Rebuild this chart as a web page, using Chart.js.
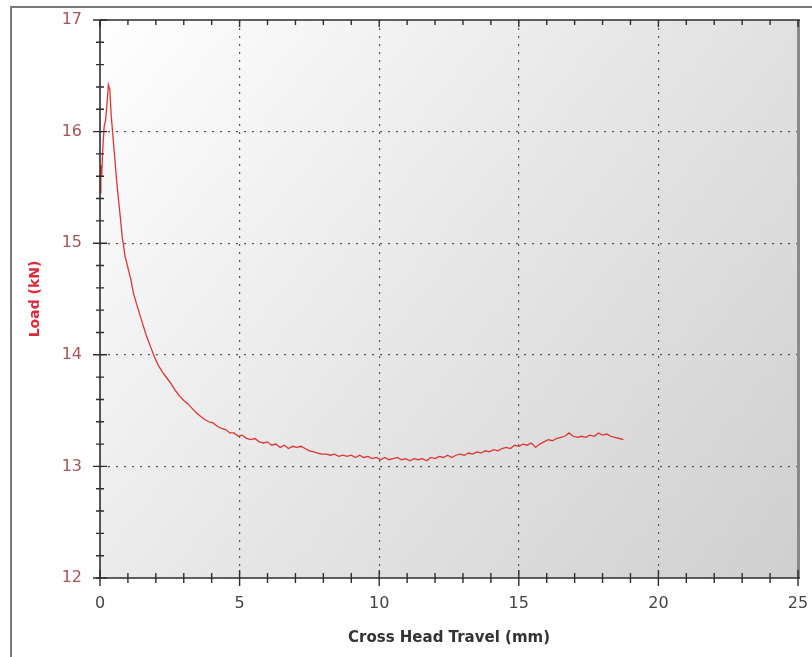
<!DOCTYPE html>
<html>
<head>
<meta charset="utf-8">
<script src="https://cdn.jsdelivr.net/npm/chart.js@4.4.1/dist/chart.umd.min.js"></script>
<style>
  body { margin: 0; background: #fff; }
  canvas { display: block; }
</style>
</head>
<body>
<canvas id="chart" width="812" height="657"></canvas>
<script>
// Cross head travel (mm)
const travel = [
    0.00, 0.03, 0.06, 0.10, 0.15, 0.20, 0.25, 0.30, 0.35, 0.40,
    0.50, 0.60, 0.70, 0.80, 0.90, 1.00, 1.10, 1.20, 1.35, 1.50,
    1.65, 1.80, 1.95, 2.10, 2.25, 2.40, 2.55, 2.70, 2.85, 3.00,
    3.15, 3.30, 3.45, 3.60, 3.75, 3.90, 4.05, 4.20, 4.35, 4.50,
    4.65, 4.80, 4.95, 5.10, 5.25, 5.40, 5.55, 5.70, 5.85, 6.00,
    6.15, 6.30, 6.45, 6.60, 6.75, 6.90, 7.05, 7.20, 7.35, 7.50,
    7.65, 7.80, 7.95, 8.10, 8.25, 8.40, 8.55, 8.70, 8.85, 9.00,
    9.15, 9.30, 9.45, 9.60, 9.75, 9.90, 10.05, 10.20, 10.35, 10.50,
    10.65, 10.80, 10.95, 11.10, 11.25, 11.40, 11.55, 11.70, 11.85, 12.00,
    12.15, 12.30, 12.45, 12.60, 12.75, 12.90, 13.05, 13.20, 13.35, 13.50,
    13.65, 13.80, 13.95, 14.10, 14.25, 14.40, 14.55, 14.70, 14.85, 15.00,
    15.15, 15.30, 15.45, 15.60, 15.75, 15.90, 16.05, 16.20, 16.35, 16.50,
    16.65, 16.80, 16.95, 17.10, 17.25, 17.40, 17.55, 17.70, 17.85, 18.00,
    18.15, 18.30, 18.45, 18.60, 18.75
];

// Load (kN)
const load = [
    15.45, 15.70, 15.60, 15.85, 16.05, 16.10, 16.25, 16.42, 16.38, 16.15,
    15.85, 15.55, 15.30, 15.05, 14.88, 14.78, 14.68, 14.55, 14.42, 14.30,
    14.18, 14.08, 13.98, 13.90, 13.84, 13.79, 13.74, 13.68, 13.63, 13.59,
    13.56, 13.52, 13.48, 13.45, 13.42, 13.40, 13.39, 13.36, 13.34, 13.33,
    13.30, 13.30, 13.27, 13.28, 13.25, 13.24, 13.25, 13.22, 13.21, 13.22,
    13.19, 13.20, 13.17, 13.19, 13.16, 13.18, 13.17, 13.18, 13.16, 13.14,
    13.13, 13.12, 13.11, 13.11, 13.10, 13.11, 13.09, 13.10, 13.09, 13.10,
    13.08, 13.10, 13.08, 13.09, 13.07, 13.08, 13.06, 13.08, 13.06, 13.07,
    13.08, 13.06, 13.07, 13.05, 13.07, 13.06, 13.07, 13.05, 13.08, 13.07,
    13.09, 13.08, 13.10, 13.08, 13.10, 13.11, 13.10, 13.12, 13.11, 13.13,
    13.12, 13.14, 13.13, 13.15, 13.14, 13.16, 13.17, 13.16, 13.19, 13.18,
    13.20, 13.19, 13.21, 13.17, 13.20, 13.22, 13.24, 13.23, 13.25, 13.26,
    13.27, 13.30, 13.27, 13.26, 13.27, 13.26, 13.28, 13.27, 13.30, 13.28,
    13.29, 13.27, 13.26, 13.25, 13.24
];

const xMin = 0, xMax = 25, xStep = 1, xMajor = 5;
const yMin = 12, yMax = 17, yStep = 0.2;

const isWhole = v => Math.abs(v - Math.round(v)) < 1e-6;

// Fond dégradé + cadre extérieur
const backdrop = {
    id: 'backdrop',
    beforeDraw(chart) {
        const { ctx, chartArea: a } = chart;
        ctx.save();
        const g = ctx.createLinearGradient(a.left, a.top, a.right, a.bottom);
        g.addColorStop(0, '#ffffff');
        g.addColorStop(0.5, '#e6e6e6');
        g.addColorStop(1, '#cfcfcf');
        ctx.fillStyle = g;
        ctx.fillRect(a.left, a.top, a.right - a.left, a.bottom - a.top);
        ctx.strokeStyle = '#7a7a7a';
        ctx.lineWidth = 2;
        ctx.strokeRect(11, 7, 830, 680);
        ctx.restore();
    }
};

// Bordures et graduations qui traversent les axes
const axisMarks = {
    id: 'axisMarks',
    afterDraw(chart) {
        const { ctx, chartArea: a } = chart;
        const xs = chart.scales.x, ys = chart.scales.y;
        ctx.save();
        ctx.strokeStyle = '#8a8a8a';
        ctx.lineWidth = 3;
        ctx.beginPath();
        ctx.moveTo(a.right + 0.5, a.top);
        ctx.lineTo(a.right + 0.5, a.bottom);
        ctx.stroke();

        ctx.strokeStyle = '#2e2e2e';
        ctx.lineWidth = 1.6;
        ctx.beginPath();
        ctx.moveTo(a.left, a.top);
        ctx.lineTo(a.right + 2, a.top);
        ctx.moveTo(a.left, a.top);
        ctx.lineTo(a.left, a.bottom);
        ctx.moveTo(a.left - 4, a.bottom);
        ctx.lineTo(a.right + 2, a.bottom);
        ctx.stroke();

        ctx.lineWidth = 1.4;
        ctx.beginPath();
        xs.ticks.forEach(t => {
            const px = xs.getPixelForValue(t.value);
            const major = t.value % xMajor === 0;
            ctx.moveTo(px, a.bottom - (major ? 8 : 5));
            ctx.lineTo(px, a.bottom + (major ? 8 : 5));
            ctx.moveTo(px, a.top);
            ctx.lineTo(px, a.top + (major ? 7 : 5));
        });
        ys.ticks.forEach(t => {
            const py = ys.getPixelForValue(t.value);
            const major = isWhole(t.value);
            ctx.moveTo(a.left - (major ? 7 : 4), py);
            ctx.lineTo(a.left + (major ? 7 : 4), py);
        });
        ctx.stroke();
        ctx.restore();
    }
};

const ctx = document.getElementById('chart').getContext('2d');

new Chart(ctx, {
    type: 'scatter',
    data: {
        datasets: [{
            data: travel.map((x, i) => ({ x: x, y: load[i] })),
            showLine: true,
            borderColor: '#e03535',
            borderWidth: 1.3,
            pointRadius: 0,
            tension: 0
        }]
    },
    options: {
        responsive: false,
        animation: false,
        layout: { padding: { top: 20, right: 14, left: 0, bottom: 0 } },
        plugins: {
            legend: { display: false },
            tooltip: { enabled: false }
        },
        scales: {
            x: {
                type: 'linear',
                min: xMin,
                max: xMax,
                afterFit(scale) { scale.height = 79; },
                ticks: {
                    stepSize: xStep,
                    autoSkip: false,
                    maxRotation: 0,
                    padding: 0,
                    color: '#444444',
                    font: { family: 'DejaVu Sans', size: 16 },
                    callback: v => (v % xMajor === 0 ? String(v) : '')
                },
                grid: {
                    drawTicks: true,
                    tickLength: 16,
                    tickColor: 'rgba(0,0,0,0)',
                    lineWidth: 1.2,
                    color: c => (c.tick && c.tick.value % xMajor === 0 && c.tick.value > xMin && c.tick.value < xMax) ? '#555555' : 'rgba(0,0,0,0)'
                },
                border: { display: false, dash: [2, 6] },
                title: {
                    display: true,
                    text: 'Cross Head Travel (mm)',
                    color: '#333333',
                    font: { family: 'DejaVu Sans', size: 15, weight: 'bold' },
                    padding: { top: 0, bottom: 10 }
                }
            },
            y: {
                type: 'linear',
                min: yMin,
                max: yMax,
                afterFit(scale) { scale.width = 100; },
                ticks: {
                    stepSize: yStep,
                    autoSkip: false,
                    padding: 0,
                    color: '#a65656',
                    font: { family: 'DejaVu Sans', size: 16 },
                    callback: v => (isWhole(v) ? String(Math.round(v)) : '')
                },
                grid: {
                    drawTicks: true,
                    tickLength: 18,
                    tickColor: 'rgba(0,0,0,0)',
                    lineWidth: 1.2,
                    color: c => (c.tick && isWhole(c.tick.value) && c.tick.value > yMin + 0.01 && c.tick.value < yMax - 0.01) ? '#555555' : 'rgba(0,0,0,0)'
                },
                border: { display: false, dash: [2, 6] },
                title: {
                    display: true,
                    text: 'Load (kN)',
                    color: '#dd2a3a',
                    font: { family: 'DejaVu Sans', size: 14, weight: 'bold' },
                    padding: { top: 27, bottom: 0 }
                }
            }
        }
    },
    plugins: [backdrop, axisMarks]
});
</script>
</body>
</html>
